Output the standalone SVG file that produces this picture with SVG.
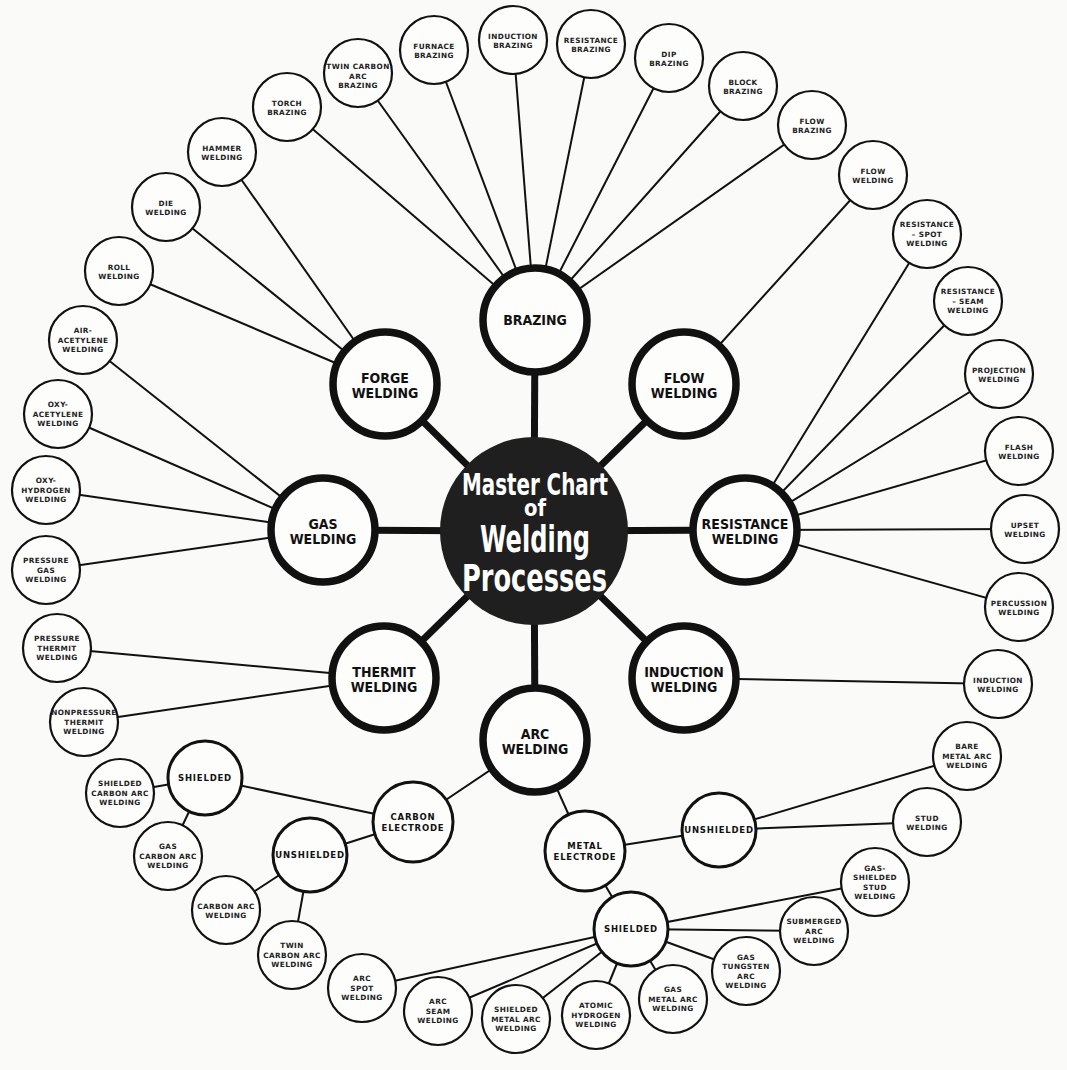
<svg xmlns="http://www.w3.org/2000/svg" width="1067" height="1070" viewBox="0 0 1067 1070">
  <style>
    .paper { fill: #fafaf8; }
    .spoke { stroke: #111; stroke-width: 7; }
    .link { stroke: #111; stroke-width: 2; fill: none; }
    .core { fill: #1f1f1f; }
    .main { fill: #fdfdfc; stroke: #111; stroke-width: 7.5; }
    .hub { fill: #fdfdfc; stroke: #111; stroke-width: 3; }
    .leaf { fill: #fdfdfc; stroke: #111; stroke-width: 2.2; }
    .tc { font-family: 'DejaVu Sans Condensed', 'DejaVu Sans', sans-serif; font-stretch: condensed; font-weight: bold; fill: #fff; }
    .tm { font-family: 'DejaVu Sans Condensed', 'DejaVu Sans', sans-serif; font-stretch: condensed; font-weight: bold; font-size: 14px; fill: #111; text-anchor: middle; }
    .th { font-family: 'DejaVu Sans', sans-serif; font-weight: bold; font-size: 8.5px; letter-spacing: 0.8px; fill: #111; text-anchor: middle; }
    .tl { font-family: 'DejaVu Sans', sans-serif; font-weight: bold; font-size: 7.3px; letter-spacing: 0.4px; fill: #222; text-anchor: middle; }
  </style>

  <rect class="paper" x="0" y="0" width="1067" height="1070"/>

  <!-- connectors: thick spokes from the centre, thin links to the sub-processes -->
  <g id="connectors">
    <line class="spoke" x1="534" y1="531" x2="535" y2="320"/>
    <line class="spoke" x1="534" y1="531" x2="385" y2="384"/>
    <line class="spoke" x1="534" y1="531" x2="684" y2="384"/>
    <line class="spoke" x1="534" y1="531" x2="323" y2="530"/>
    <line class="spoke" x1="534" y1="531" x2="745" y2="530"/>
    <line class="spoke" x1="534" y1="531" x2="384" y2="678"/>
    <line class="spoke" x1="534" y1="531" x2="684" y2="678"/>
    <line class="spoke" x1="534" y1="531" x2="535" y2="740"/>

    <!-- brazing -->
    <line class="link" x1="535" y1="320" x2="287" y2="107"/>
    <line class="link" x1="535" y1="320" x2="358" y2="73"/>
    <line class="link" x1="535" y1="320" x2="434" y2="50"/>
    <line class="link" x1="535" y1="320" x2="513" y2="40"/>
    <line class="link" x1="535" y1="320" x2="591" y2="44"/>
    <line class="link" x1="535" y1="320" x2="669" y2="58"/>
    <line class="link" x1="535" y1="320" x2="743" y2="86"/>
    <line class="link" x1="535" y1="320" x2="812" y2="125"/>
    <!-- forge welding -->
    <line class="link" x1="385" y1="384" x2="222" y2="152"/>
    <line class="link" x1="385" y1="384" x2="166" y2="207"/>
    <line class="link" x1="385" y1="384" x2="119" y2="271"/>
    <!-- gas welding -->
    <line class="link" x1="323" y1="530" x2="83" y2="340"/>
    <line class="link" x1="323" y1="530" x2="58" y2="414"/>
    <line class="link" x1="323" y1="530" x2="46" y2="490"/>
    <line class="link" x1="323" y1="530" x2="46" y2="570"/>
    <!-- flow welding -->
    <line class="link" x1="684" y1="384" x2="873" y2="175"/>
    <!-- resistance welding -->
    <line class="link" x1="745" y1="530" x2="927" y2="234"/>
    <line class="link" x1="745" y1="530" x2="968" y2="301"/>
    <line class="link" x1="745" y1="530" x2="999" y2="374"/>
    <line class="link" x1="745" y1="530" x2="1019" y2="451"/>
    <line class="link" x1="745" y1="530" x2="1025" y2="529"/>
    <line class="link" x1="745" y1="530" x2="1019" y2="607"/>
    <!-- induction welding -->
    <line class="link" x1="684" y1="678" x2="998" y2="684"/>
    <!-- thermit welding -->
    <line class="link" x1="384" y1="678" x2="57" y2="648"/>
    <line class="link" x1="384" y1="678" x2="84" y2="722"/>
    <!-- arc welding -->
    <line class="link" x1="535" y1="740" x2="413" y2="822"/>
    <line class="link" x1="535" y1="740" x2="585" y2="851"/>
    <line class="link" x1="413" y1="822" x2="205" y2="778"/>
    <line class="link" x1="413" y1="822" x2="310" y2="855"/>
    <line class="link" x1="205" y1="778" x2="120" y2="793"/>
    <line class="link" x1="205" y1="778" x2="168" y2="856"/>
    <line class="link" x1="310" y1="855" x2="226" y2="910"/>
    <line class="link" x1="310" y1="855" x2="292" y2="955"/>
    <line class="link" x1="585" y1="851" x2="719" y2="830"/>
    <line class="link" x1="585" y1="851" x2="631" y2="929"/>
    <line class="link" x1="719" y1="830" x2="967" y2="756"/>
    <line class="link" x1="719" y1="830" x2="927" y2="822"/>
    <line class="link" x1="631" y1="929" x2="875" y2="882"/>
    <line class="link" x1="631" y1="929" x2="814" y2="931"/>
    <line class="link" x1="631" y1="929" x2="746" y2="971"/>
    <line class="link" x1="631" y1="929" x2="673" y2="999"/>
    <line class="link" x1="631" y1="929" x2="596" y2="1015"/>
    <line class="link" x1="631" y1="929" x2="516" y2="1019"/>
    <line class="link" x1="631" y1="929" x2="438" y2="1011"/>
    <line class="link" x1="631" y1="929" x2="362" y2="988"/>
  </g>

  <!-- centre title, set as one stacked block -->
  <g id="master-chart">
    <circle class="core" cx="534" cy="531" r="94"/>
    <text class="tc"><tspan x="462" y="495" font-size="31" textLength="146" lengthAdjust="spacingAndGlyphs">Master Chart</tspan><tspan x="524" y="516" font-size="23" textLength="22" lengthAdjust="spacingAndGlyphs">of</tspan><tspan x="480" y="552" font-size="38" textLength="110" lengthAdjust="spacingAndGlyphs">Welding</tspan><tspan x="462" y="591" font-size="38" textLength="145" lengthAdjust="spacingAndGlyphs">Processes</tspan></text>
  </g>

  <!-- main processes -->
  <g id="brazing"><circle class="main" cx="535" cy="320" r="52"/><text class="tm" x="535" y="325">BRAZING</text></g>
  <g id="forge-welding"><circle class="main" cx="385" cy="384" r="52"/><text class="tm" x="385" y="383">FORGE<tspan x="385" dy="15">WELDING</tspan></text></g>
  <g id="flow-welding"><circle class="main" cx="684" cy="384" r="52"/><text class="tm" x="684" y="383">FLOW<tspan x="684" dy="15">WELDING</tspan></text></g>
  <g id="gas-welding"><circle class="main" cx="323" cy="530" r="52"/><text class="tm" x="323" y="529">GAS<tspan x="323" dy="15">WELDING</tspan></text></g>
  <g id="resistance-welding"><circle class="main" cx="745" cy="530" r="52"/><text class="tm" x="745" y="529">RESISTANCE<tspan x="745" dy="15">WELDING</tspan></text></g>
  <g id="thermit-welding"><circle class="main" cx="384" cy="678" r="52"/><text class="tm" x="384" y="677">THERMIT<tspan x="384" dy="15">WELDING</tspan></text></g>
  <g id="induction-welding"><circle class="main" cx="684" cy="678" r="52"/><text class="tm" x="684" y="677">INDUCTION<tspan x="684" dy="15">WELDING</tspan></text></g>
  <g id="arc-welding"><circle class="main" cx="535" cy="740" r="52"/><text class="tm" x="535" y="739">ARC<tspan x="535" dy="15">WELDING</tspan></text></g>

  <!-- arc welding branches -->
  <g id="carbon-electrode"><circle class="hub" cx="413" cy="822" r="40"/><text class="th" x="413" y="819.8">CARBON<tspan x="413" dy="11">ELECTRODE</tspan></text></g>
  <g id="metal-electrode"><circle class="hub" cx="585" cy="851" r="40"/><text class="th" x="585" y="848.8">METAL<tspan x="585" dy="11">ELECTRODE</tspan></text></g>
  <g id="carbon-shielded"><circle class="hub" cx="205" cy="778" r="37"/><text class="th" x="205" y="781.3">SHIELDED</text></g>
  <g id="carbon-unshielded"><circle class="hub" cx="310" cy="855" r="37"/><text class="th" x="310" y="858.3">UNSHIELDED</text></g>
  <g id="metal-unshielded"><circle class="hub" cx="719" cy="830" r="37"/><text class="th" x="719" y="833.3">UNSHIELDED</text></g>
  <g id="metal-shielded"><circle class="hub" cx="631" cy="929" r="37"/><text class="th" x="631" y="932.3">SHIELDED</text></g>

  <!-- brazing processes -->
  <g id="torch-brazing"><circle class="leaf" cx="287" cy="107" r="34"/><text class="tl" x="287" y="105.5">TORCH<tspan x="287" dy="9.5">BRAZING</tspan></text></g>
  <g id="twin-carbon-arc-brazing"><circle class="leaf" cx="358" cy="73" r="34"/><text class="tl" x="358" y="69">TWIN CARBON<tspan x="358" dy="9.5">ARC</tspan><tspan x="358" dy="9.5">BRAZING</tspan></text></g>
  <g id="furnace-brazing"><circle class="leaf" cx="434" cy="50" r="34"/><text class="tl" x="434" y="48.5">FURNACE<tspan x="434" dy="9.5">BRAZING</tspan></text></g>
  <g id="induction-brazing"><circle class="leaf" cx="513" cy="40" r="34"/><text class="tl" x="513" y="38.5">INDUCTION<tspan x="513" dy="9.5">BRAZING</tspan></text></g>
  <g id="resistance-brazing"><circle class="leaf" cx="591" cy="44" r="34"/><text class="tl" x="591" y="42.5">RESISTANCE<tspan x="591" dy="9.5">BRAZING</tspan></text></g>
  <g id="dip-brazing"><circle class="leaf" cx="669" cy="58" r="34"/><text class="tl" x="669" y="56.5">DIP<tspan x="669" dy="9.5">BRAZING</tspan></text></g>
  <g id="block-brazing"><circle class="leaf" cx="743" cy="86" r="34"/><text class="tl" x="743" y="84.5">BLOCK<tspan x="743" dy="9.5">BRAZING</tspan></text></g>
  <g id="flow-brazing"><circle class="leaf" cx="812" cy="125" r="34"/><text class="tl" x="812" y="123.5">FLOW<tspan x="812" dy="9.5">BRAZING</tspan></text></g>

  <!-- flow and resistance processes -->
  <g id="flow-welding-process"><circle class="leaf" cx="873" cy="175" r="34"/><text class="tl" x="873" y="173.5">FLOW<tspan x="873" dy="9.5">WELDING</tspan></text></g>
  <g id="resistance-spot-welding"><circle class="leaf" cx="927" cy="234" r="34"/><text class="tl" x="927" y="227">RESISTANCE<tspan x="927" dy="9.5">– SPOT</tspan><tspan x="927" dy="9.5">WELDING</tspan></text></g>
  <g id="resistance-seam-welding"><circle class="leaf" cx="968" cy="301" r="34"/><text class="tl" x="968" y="294">RESISTANCE<tspan x="968" dy="9.5">– SEAM</tspan><tspan x="968" dy="9.5">WELDING</tspan></text></g>
  <g id="projection-welding"><circle class="leaf" cx="999" cy="374" r="34"/><text class="tl" x="999" y="372.5">PROJECTION<tspan x="999" dy="9.5">WELDING</tspan></text></g>
  <g id="flash-welding"><circle class="leaf" cx="1019" cy="451" r="34"/><text class="tl" x="1019" y="449.5">FLASH<tspan x="1019" dy="9.5">WELDING</tspan></text></g>
  <g id="upset-welding"><circle class="leaf" cx="1025" cy="529" r="34"/><text class="tl" x="1025" y="527.5">UPSET<tspan x="1025" dy="9.5">WELDING</tspan></text></g>
  <g id="percussion-welding"><circle class="leaf" cx="1019" cy="607" r="34"/><text class="tl" x="1019" y="605.5">PERCUSSION<tspan x="1019" dy="9.5">WELDING</tspan></text></g>
  <g id="induction-welding-process"><circle class="leaf" cx="998" cy="684" r="34"/><text class="tl" x="998" y="682.5">INDUCTION<tspan x="998" dy="9.5">WELDING</tspan></text></g>

  <!-- forge processes -->
  <g id="hammer-welding"><circle class="leaf" cx="222" cy="152" r="34"/><text class="tl" x="222" y="150.5">HAMMER<tspan x="222" dy="9.5">WELDING</tspan></text></g>
  <g id="die-welding"><circle class="leaf" cx="166" cy="207" r="34"/><text class="tl" x="166" y="205.5">DIE<tspan x="166" dy="9.5">WELDING</tspan></text></g>
  <g id="roll-welding"><circle class="leaf" cx="119" cy="271" r="34"/><text class="tl" x="119" y="269.5">ROLL<tspan x="119" dy="9.5">WELDING</tspan></text></g>

  <!-- gas processes -->
  <g id="air-acetylene-welding"><circle class="leaf" cx="83" cy="340" r="34"/><text class="tl" x="83" y="333">AIR-<tspan x="83" dy="9.5">ACETYLENE</tspan><tspan x="83" dy="9.5">WELDING</tspan></text></g>
  <g id="oxy-acetylene-welding"><circle class="leaf" cx="58" cy="414" r="34"/><text class="tl" x="58" y="407">OXY-<tspan x="58" dy="9.5">ACETYLENE</tspan><tspan x="58" dy="9.5">WELDING</tspan></text></g>
  <g id="oxy-hydrogen-welding"><circle class="leaf" cx="46" cy="490" r="34"/><text class="tl" x="46" y="483">OXY-<tspan x="46" dy="9.5">HYDROGEN</tspan><tspan x="46" dy="9.5">WELDING</tspan></text></g>
  <g id="pressure-gas-welding"><circle class="leaf" cx="46" cy="570" r="34"/><text class="tl" x="46" y="563">PRESSURE<tspan x="46" dy="9.5">GAS</tspan><tspan x="46" dy="9.5">WELDING</tspan></text></g>

  <!-- thermit processes -->
  <g id="pressure-thermit-welding"><circle class="leaf" cx="57" cy="648" r="34"/><text class="tl" x="57" y="641">PRESSURE<tspan x="57" dy="9.5">THERMIT</tspan><tspan x="57" dy="9.5">WELDING</tspan></text></g>
  <g id="nonpressure-thermit-welding"><circle class="leaf" cx="84" cy="722" r="34"/><text class="tl" x="84" y="715" letter-spacing="0">NONPRESSURE<tspan x="84" dy="9.5">THERMIT</tspan><tspan x="84" dy="9.5">WELDING</tspan></text></g>

  <!-- carbon electrode processes -->
  <g id="shielded-carbon-arc-welding"><circle class="leaf" cx="120" cy="793" r="34"/><text class="tl" x="120" y="786">SHIELDED<tspan x="120" dy="9.5">CARBON ARC</tspan><tspan x="120" dy="9.5">WELDING</tspan></text></g>
  <g id="gas-carbon-arc-welding"><circle class="leaf" cx="168" cy="856" r="34"/><text class="tl" x="168" y="849">GAS<tspan x="168" dy="9.5">CARBON ARC</tspan><tspan x="168" dy="9.5">WELDING</tspan></text></g>
  <g id="carbon-arc-welding"><circle class="leaf" cx="226" cy="910" r="34"/><text class="tl" x="226" y="908.5">CARBON ARC<tspan x="226" dy="9.5">WELDING</tspan></text></g>
  <g id="twin-carbon-arc-welding"><circle class="leaf" cx="292" cy="955" r="34"/><text class="tl" x="292" y="948">TWIN<tspan x="292" dy="9.5">CARBON ARC</tspan><tspan x="292" dy="9.5">WELDING</tspan></text></g>

  <!-- metal electrode processes -->
  <g id="bare-metal-arc-welding"><circle class="leaf" cx="967" cy="756" r="34"/><text class="tl" x="967" y="749">BARE<tspan x="967" dy="9.5">METAL ARC</tspan><tspan x="967" dy="9.5">WELDING</tspan></text></g>
  <g id="stud-welding"><circle class="leaf" cx="927" cy="822" r="34"/><text class="tl" x="927" y="820.5">STUD<tspan x="927" dy="9.5">WELDING</tspan></text></g>
  <g id="gas-shielded-stud-welding"><circle class="leaf" cx="875" cy="882" r="34"/><text class="tl" x="875" y="870.5">GAS-<tspan x="875" dy="9.5">SHIELDED</tspan><tspan x="875" dy="9.5">STUD</tspan><tspan x="875" dy="9.5">WELDING</tspan></text></g>
  <g id="submerged-arc-welding"><circle class="leaf" cx="814" cy="931" r="34"/><text class="tl" x="814" y="924">SUBMERGED<tspan x="814" dy="9.5">ARC</tspan><tspan x="814" dy="9.5">WELDING</tspan></text></g>
  <g id="gas-tungsten-arc-welding"><circle class="leaf" cx="746" cy="971" r="34"/><text class="tl" x="746" y="959.5">GAS<tspan x="746" dy="9.5">TUNGSTEN</tspan><tspan x="746" dy="9.5">ARC</tspan><tspan x="746" dy="9.5">WELDING</tspan></text></g>
  <g id="gas-metal-arc-welding"><circle class="leaf" cx="673" cy="999" r="34"/><text class="tl" x="673" y="992">GAS<tspan x="673" dy="9.5">METAL ARC</tspan><tspan x="673" dy="9.5">WELDING</tspan></text></g>
  <g id="atomic-hydrogen-welding"><circle class="leaf" cx="596" cy="1015" r="34"/><text class="tl" x="596" y="1008">ATOMIC<tspan x="596" dy="9.5">HYDROGEN</tspan><tspan x="596" dy="9.5">WELDING</tspan></text></g>
  <g id="shielded-metal-arc-welding"><circle class="leaf" cx="516" cy="1019" r="34"/><text class="tl" x="516" y="1012">SHIELDED<tspan x="516" dy="9.5">METAL ARC</tspan><tspan x="516" dy="9.5">WELDING</tspan></text></g>
  <g id="arc-seam-welding"><circle class="leaf" cx="438" cy="1011" r="34"/><text class="tl" x="438" y="1004">ARC<tspan x="438" dy="9.5">SEAM</tspan><tspan x="438" dy="9.5">WELDING</tspan></text></g>
  <g id="arc-spot-welding"><circle class="leaf" cx="362" cy="988" r="34"/><text class="tl" x="362" y="981">ARC<tspan x="362" dy="9.5">SPOT</tspan><tspan x="362" dy="9.5">WELDING</tspan></text></g>
</svg>
